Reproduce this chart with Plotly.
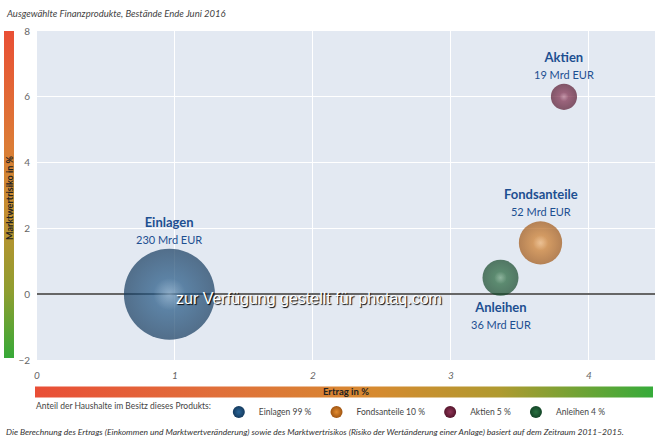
import math
import plotly.graph_objects as go

# Finanzprodukte privater Haushalte, Bestaende Ende Juni 2016
produkte = ["Einlagen", "Fondsanteile", "Aktien", "Anleihen"]
ertrag = [0.96, 3.65, 3.82, 3.36]        # Ertrag in %
risiko = [0.0, 1.56, 6.0, 0.5]           # Marktwertrisiko in %
volumen = [230, 52, 19, 36]              # Mrd EUR
anteil = [99, 10, 5, 4]                  # Anteil der Haushalte in %

farben = ["#143a5e", "#a05512", "#55152c", "#134527"]   # dark rim
mitte = ["#2a6597", "#e38c30", "#8f3557", "#2a7141"]    # body
label_oben = [True, True, True, False]

x_ticks = [0, 1, 2, 3, 4]
y_ticks = [-2, 0, 2, 4, 6, 8]

FONT = "Lato, 'Open Sans', sans-serif"
BLUE = "#1d4f91"
SIZEREF = 1 / 18

fig = go.Figure()

fig.add_trace(go.Scatter(
    x=ertrag, y=risiko, mode="markers",
    marker=dict(size=volumen, sizemode="area", sizeref=SIZEREF,
                color=farben, line=dict(width=0),
                gradient=dict(type="radial", color=mitte)),
    showlegend=False, hoverinfo="skip",
))
# highlight on the spheres
fig.add_trace(go.Scatter(
    x=ertrag, y=risiko, mode="markers",
    marker=dict(size=volumen, sizemode="area", sizeref=SIZEREF * 8,
                color="rgba(255,255,255,0)", line=dict(width=0),
                gradient=dict(type="radial", color="rgba(255,255,255,0.4)")),
    showlegend=False, hoverinfo="skip",
))

# labels above / below the bubbles
for p, v, x, y, oben in zip(produkte, volumen, ertrag, risiko, label_oben):
    r = math.sqrt(v / 2 / SIZEREF)
    fig.add_annotation(
        x=x, y=y, showarrow=False,
        text=f"<b>{p}</b><br><span style='font-size:11px'>{v} Mrd EUR</span>",
        yanchor="bottom" if oben else "top",
        yshift=(r + 1) if oben else -(r + 1),
        font=dict(family=FONT, size=13, color=BLUE))

# legend entries (small spheres)
for p, a, c, m in zip(produkte, anteil, farben, mitte):
    fig.add_trace(go.Scatter(
        x=[None], y=[None], mode="markers", name=f"{p} {a} %",
        marker=dict(size=12, color=c, line=dict(width=0),
                    gradient=dict(type="radial", color=m)),
    ))

# gradient bars via colorbars of dummy traces
fig.add_trace(go.Scatter(
    x=[None], y=[None], mode="markers", showlegend=False,
    marker=dict(color=[0], cmin=0, cmax=1, showscale=True,
                colorscale=[[0, "#36a938"], [0.2, "#8e9e30"], [0.45, "#c58f30"],
                            [0.65, "#dc7c36"], [1, "#e94f35"]],
                colorbar=dict(xref="container", yref="paper",
                              x=4 / 660, xanchor="left", xpad=0,
                              y=0.503, yanchor="middle", ypad=0,
                              len=327 / 329, lenmode="fraction",
                              thickness=10, outlinewidth=0,
                              showticklabels=False, ticks="")),
))
fig.add_trace(go.Scatter(
    x=[None], y=[None], mode="markers", showlegend=False,
    marker=dict(color=[0], cmin=0, cmax=1, showscale=True,
                colorscale=[[0, "#e94e36"], [0.3, "#e0703a"], [0.55, "#d68a30"],
                            [0.75, "#b09a30"], [1, "#36ab3a"]],
                colorbar=dict(orientation="h", xref="container", yref="container",
                              x=37 / 660, xanchor="left", xpad=0,
                              y=1 - 391.5 / 440, yanchor="middle", ypad=0,
                              len=618, lenmode="pixels",
                              thickness=11, outlinewidth=0,
                              showticklabels=False, ticks="")),
))

fig.update_layout(
    width=660, height=440,
    margin=dict(l=37, r=5, t=31, b=80, autoexpand=False),
    paper_bgcolor="white", plot_bgcolor="#e3e9f2",
    font=dict(family=FONT, color="#555"),
    xaxis=dict(range=[0, 4.48], tickvals=x_ticks, showgrid=True,
               gridcolor="white", gridwidth=1, zeroline=False,
               tickfont=dict(size=10, color="#666", style="italic"),
               ticklen=0, ticklabelstandoff=8),
    yaxis=dict(range=[-2, 8], tickvals=y_ticks, showgrid=True,
               gridcolor="white", gridwidth=1, zeroline=True,
               zerolinecolor="#666", zerolinewidth=1.5,
               tickfont=dict(size=10, color="#666"), ticklen=0,
               ticklabelstandoff=6),
    legend=dict(orientation="h", x=34 / 660, xref="container", xanchor="left",
                y=1 - 412 / 440, yref="container", yanchor="middle",
                title=dict(text="Anteil der Haushalte im Besitz dieses Produkts:",
                           side="left", font=dict(size=8.5, color="#444")),
                font=dict(size=8.5, color="#444"), bgcolor="rgba(0,0,0,0)",
                itemwidth=30, tracegroupgap=0),
    showlegend=True,
)

fig.add_annotation(text="Ausgewählte Finanzprodukte, Bestände Ende Juni 2016",
                   xref="paper", yref="paper", x=-33 / 618, y=1 + 17 / 329,
                   xanchor="left", yanchor="middle", showarrow=False,
                   font=dict(size=9.5, color="#444", style="italic"))
fig.add_annotation(text="<b>Ertrag in %</b>", xref="paper", yref="paper",
                   x=0.5, y=-31.5 / 329, xanchor="center", yanchor="middle",
                   showarrow=False, font=dict(size=9.5, color="#222"))
fig.add_annotation(text="<b>Marktwertrisiko in %</b>", xref="paper", yref="paper",
                   x=-28 / 618, y=1 - 167 / 329, xanchor="center", yanchor="middle",
                   textangle=-90, showarrow=False, font=dict(size=9, color="#222"))
fig.add_annotation(
    text="Die Berechnung des <i>Ertrags</i> (Einkommen und Marktwertveränderung) sowie des "
         "<i>Marktwertrisikos</i> (Risiko der Wertänderung einer Anlage) basiert auf dem "
         "Zeitraum 2011–2015.",
    xref="paper", yref="paper", x=-33 / 618, y=-72 / 329,
    xanchor="left", yanchor="middle", showarrow=False,
    font=dict(size=8.5, color="#333", style="italic"))
fig.add_annotation(text="zur Verfügung gestellt für photaq.com", xref="paper",
                   yref="paper", x=(309 - 37) / 618, y=(360 - 298) / 329,
                   xanchor="center", yanchor="middle", showarrow=False,
                   font=dict(size=16, color="white", family="Arial, Liberation Sans",
                             shadow="1px 1px 1px black"))

fig.write_html("out.html", config={"displayModeBar": False},
               post_script="document.body.style.margin='0px';")
